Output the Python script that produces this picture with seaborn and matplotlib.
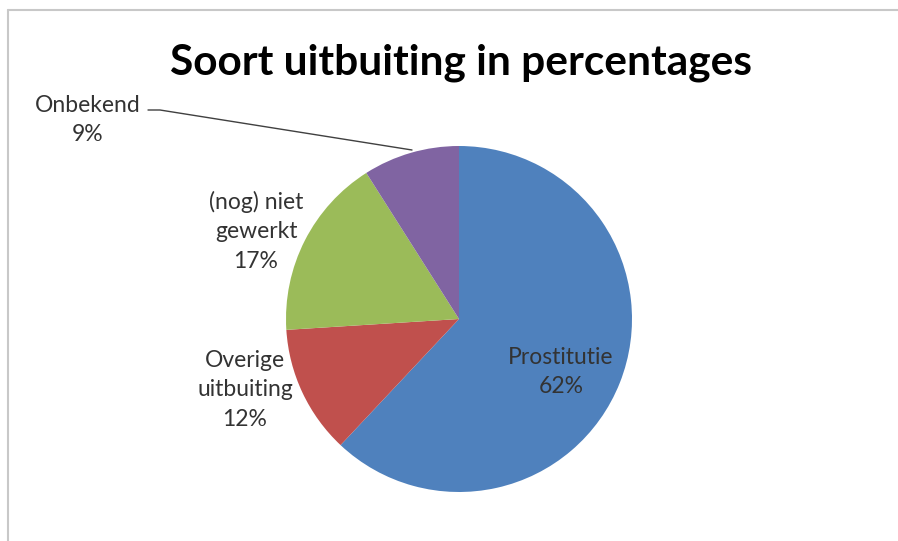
import matplotlib
matplotlib.use('Agg')
import matplotlib.pyplot as plt
import seaborn as sns

# data
categories = ['Prostitutie', 'Overige\nuitbuiting', '(nog) niet\ngewerkt', 'Onbekend']
percentages = [62, 12, 17, 9]
colors = ['#4F81BD', '#C0504D', '#9BBB59', '#8064A2']
title = 'Soort uitbuiting in percentages'

sns.set_theme(style='white')
plt.rcParams['font.family'] = ['Lato', 'DejaVu Sans']

W, H = 898, 541
fig = plt.figure(figsize=(W / 100, H / 100), dpi=100)
ax = fig.add_axes([0, 0, 1, 1])

# pie, clockwise from 12 o'clock
cx, cy, r = 459, H - 319, 173
wedges, _ = ax.pie(percentages, colors=colors, startangle=90, counterclock=False,
                   center=(cx, cy), radius=r, frame=True,
                   wedgeprops={'linewidth': 0})
ax.set_xlim(0, W)
ax.set_ylim(0, H)
ax.set_aspect('equal')
ax.axis('off')

# label positions (pixel coords, y from top)
label_pos = [(561, 372), (245, 390), (256, 231), (88, 120)]
for name, pct, (lx, ly) in zip(categories, percentages, label_pos):
    ax.text(lx, H - ly, f'{name}\n{pct}%', ha='center', va='center',
            fontsize=16.5, color='#333333', linespacing=1.5)

# leader line for Onbekend
ax.plot([148, 160, 412], [H - 110, H - 110, H - 150], color='#404040', lw=1.0)

ax.text(461, H - 75, title, ha='center', va='baseline',
        fontsize=30.5, fontweight='bold', color='black')

# frame lines (top and left)
ax.plot([8, W], [H - 10, H - 10], color='#c8c8c8', lw=1.5, clip_on=False)
ax.plot([8, 8], [H - 10, 0], color='#c8c8c8', lw=1.5, clip_on=False)

fig.savefig('out.png', dpi=100)
